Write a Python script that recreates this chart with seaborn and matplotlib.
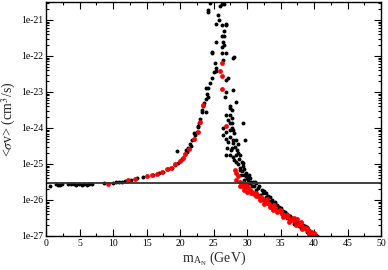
import matplotlib
matplotlib.use("Agg")
import matplotlib.pyplot as plt
import matplotlib.ticker as mticker
import numpy as np
import pandas as pd
import seaborn as sns

# ---- data ----
black_m = [0.6, 1.4, 1.7, 2.0, 2.3, 3.3, 3.7, 4.1, 4.5, 4.9, 5.3, 5.7, 6.1, 6.4, 6.8,
           8.7, 10.0, 10.5, 10.9, 11.3, 11.7, 12.0, 12.6,
           13.6, 14.5, 16.0, 16.8, 17.5, 18.2, 18.8, 19.3, 19.7, 20.2, 20.5, 20.8, 21.0, 21.2,
           21.5, 21.8, 22.0, 22.2, 22.5, 22.6, 22.8, 23.0, 23.2, 23.4, 23.6, 23.8, 24.0, 24.2,
           24.5, 24.8, 25.0, 25.3, 19.5, 23.9, 24.2, 23.2, 23.9, 22.7, 22.1, 21.6, 20.9, 20.3,
           24.4, 24.2, 24.1, 25.7, 26.2, 26.4, 26.6, 26.0, 25.8, 26.2, 26.9, 26.5, 26.2, 26.5,
           25.4, 26.4, 26.2, 26.6, 24.7, 24.8, 26.2, 26.8, 27.9, 28.1, 25.2, 26.4, 25.4, 26.9,
           25.4, 26.9, 27.1, 26.9, 27.9, 28.4, 27.4, 27.7, 26.9, 27.4, 27.2, 27.7, 26.4, 27.7,
           29.4, 26.7, 27.4, 27.7, 27.4, 27.9,
           26.4, 27.4, 26.9, 27.9, 28.2, 27.4, 28.7, 28.4, 29.7, 29.4, 27.9, 26.9, 27.9, 28.9,
           29.4, 27.6, 28.0, 28.6, 29.0, 29.2, 29.5, 29.8, 30.0, 30.2, 30.4, 30.6, 30.9, 31.1,
           31.4, 31.4, 29.6, 30.0, 28.5, 28.3, 27.2, 26.8, 28.1, 27.0, 29.1, 28.8,
           30.8, 31.2, 30.5, 29.9, 29.6, 29.2, 28.9, 28.6, 28.3, 27.8, 27.5, 30.3,
           31.8, 32.2, 32.5, 32.8, 33.1, 33.4, 33.7, 33.9, 34.2, 34.5, 34.8, 35.1, 35.4, 35.7,
           36.0, 36.4, 36.7, 37.0, 37.3, 37.6, 38.0, 38.3, 38.6, 38.9, 39.3, 39.7, 40.1, 40.5,
           32.0, 33.0, 34.0, 35.0, 36.0, 37.0, 38.0, 39.0,
           31.6, 32.4, 32.9, 33.3, 33.6, 34.1, 34.6, 35.2, 35.6, 36.2, 36.6, 37.2, 37.8, 38.4,
           39.1, 39.5, 40.3]
black_sv = [2.5e-26, 2.7e-26, 2.6e-26, 2.6e-26, 2.7e-26, 2.7e-26, 2.75e-26, 2.7e-26, 2.6e-26,
            2.7e-26, 2.6e-26, 2.7e-26, 2.65e-26, 2.75e-26, 2.8e-26,
            3.0e-26, 3.0e-26, 3.1e-26, 3.2e-26, 3.2e-26, 3.3e-26, 3.35e-26, 3.5e-26,
            4.1e-26, 4.4e-26, 5.0e-26, 5.5e-26, 6.0e-26, 7.1e-26, 7.9e-26, 9.3e-26, 1.05e-25,
            1.26e-25, 1.5e-25, 1.9e-25, 2.2e-25, 2.8e-25, 3.5e-25, 4.5e-25, 5.0e-25, 6.3e-25,
            7.9e-25, 1.05e-24, 1.4e-24, 1.8e-24, 2.8e-24, 4.0e-24, 5.0e-24, 6.3e-24, 8.9e-24,
            1.26e-23, 1.8e-23, 2.5e-23, 3.5e-23, 4.5e-23, 2.3e-25, 1.26e-23, 7.4e-24, 3.2e-24,
            2.8e-24, 1.1e-24, 7.1e-25, 3.2e-25, 2.5e-25, 1.4e-25,
            3.0e-21, 1.9e-21, 1.66e-21, 1.4e-21, 2.75e-21, 3.0e-21, 2.8e-21, 2.5e-21, 1.0e-21,
            7.2e-22, 7.2e-22, 5.0e-22, 3.5e-22, 3.5e-22, 2.5e-22, 2.5e-22, 1.8e-22, 2.0e-22,
            1.26e-22, 1.2e-22, 1.2e-22, 1.2e-22, 8.7e-23, 9.5e-23, 6.5e-23, 7.9e-23, 7.9e-22,
            7.9e-22, 3.7e-23, 2.1e-23, 2.5e-23, 1.0e-23, 1.15e-23, 5.4e-24, 4.0e-24, 3.2e-24,
            2.3e-24, 2.3e-24, 1.66e-24, 1.35e-24, 1.0e-24, 1.0e-24, 1.4e-24, 7.4e-24, 3.5e-24,
            1.9e-24, 1.35e-24, 8.7e-25,
            6.5e-25, 8.7e-25, 7.9e-25, 4.7e-25, 3.0e-25, 1.8e-25, 2.0e-25, 1.15e-25, 4.7e-25,
            1.05e-25, 3.7e-25, 1.8e-25, 1.6e-25, 6.8e-26, 8.5e-26, 2.5e-25, 1.26e-25, 1.0e-25,
            7.9e-26, 6.3e-26, 5.0e-26, 4.5e-26, 4.0e-26, 3.5e-26, 2.9e-26, 3.2e-26, 3.2e-26,
            2.5e-26, 1.9e-26, 2.9e-26, 3.5e-26, 2.8e-26, 2.5e-25, 4.5e-25, 4.0e-25, 5.0e-25,
            7.1e-25, 2.8e-25, 5.0e-26, 1.4e-25,
            2.4e-26, 3.2e-26, 4.0e-26, 5.6e-26, 7.1e-26, 1.1e-25, 1.8e-25, 3.5e-25, 1.8e-25,
            2.8e-25, 5.6e-25, 5.0e-26,
            2.4e-26, 1.9e-26, 1.8e-26, 1.6e-26, 1.3e-26, 1.2e-26, 1.0e-26, 8.1e-27, 8.9e-27,
            7.1e-27, 6.3e-27, 5.8e-27, 5.0e-27, 4.7e-27, 4.0e-27, 3.5e-27, 3.2e-27, 2.8e-27,
            2.6e-27, 2.4e-27, 2.2e-27, 2.0e-27, 1.9e-27, 1.8e-27, 1.5e-27, 1.3e-27, 1.12e-27,
            1.0e-27, 1.4e-26, 1.0e-26, 6.3e-27, 4.5e-27, 3.2e-27, 2.2e-27, 1.66e-27, 1.3e-27,
            2.1e-26, 1.6e-26, 1.2e-26, 9.5e-27, 8.3e-27, 7.6e-27, 5.6e-27, 4.8e-27, 4.0e-27,
            3.5e-27, 2.8e-27, 2.4e-27, 1.9e-27, 1.66e-27, 1.4e-27, 1.2e-27, 1.0e-27]

red_m = [9.3, 12.2, 13.2, 15.0, 15.8, 16.5, 17.3, 18.0, 18.6, 19.2, 20.0, 20.4, 20.8, 21.4,
         22.0, 22.7, 22.9, 23.4, 26.0, 26.2, 26.2, 26.2, 26.9,
         28.2, 28.4, 28.7, 28.4, 28.9, 29.4, 29.9, 30.1, 29.3, 29.7, 30.4, 30.8, 31.1, 31.4,
         31.7, 31.9, 32.2, 32.4, 32.7, 33.0, 33.3, 33.6, 33.9, 34.2, 34.5, 34.9, 35.2, 35.5,
         35.8, 36.1, 36.4, 36.7, 37.0, 37.4, 37.7, 38.0, 38.3, 38.6, 38.9, 39.2, 39.5, 39.8,
         40.1, 40.4, 33.0, 34.0, 35.0, 36.0, 37.0, 38.0, 39.0, 40.0,
         30.6, 31.3, 32.0, 32.6, 33.4, 34.4, 35.4, 36.3, 37.3, 38.2, 39.3, 40.2, 29.0, 29.6,
         30.0]
red_sv = [2.8e-26, 3.5e-26, 3.9e-26, 4.7e-26, 5.0e-26, 5.4e-26, 6.0e-26, 7.1e-26, 7.9e-26,
          1.0e-25, 1.2e-25, 1.45e-25, 1.9e-25, 2.6e-25, 5.0e-25, 7.9e-25, 1.5e-24, 4.4e-24,
          3.8e-23, 2.7e-23, 1.2e-23, 6.3e-23, 1.1e-24,
          6.8e-26, 5.5e-26, 4.5e-26, 3.6e-26, 3.2e-26, 2.9e-26, 2.6e-26, 2.3e-26, 2.5e-26,
          2.2e-26, 1.9e-26, 1.66e-26, 1.5e-26, 1.55e-26, 1.3e-26, 1.23e-26, 1.12e-26, 1.0e-26,
          9.1e-27, 8.3e-27, 7.6e-27, 6.3e-27, 5.2e-27, 5.6e-27, 5.0e-27, 5.2e-27, 4.2e-27,
          3.8e-27, 3.5e-27, 3.3e-27, 2.75e-27, 3.0e-27, 2.6e-27, 2.9e-27, 2.2e-27, 2.0e-27,
          1.8e-27, 1.66e-27, 1.5e-27, 1.4e-27, 1.26e-27, 1.12e-27, 1.05e-27, 0.95e-27,
          1.05e-26, 7.1e-27, 5.0e-27, 3.8e-27, 3.2e-27, 2.4e-27, 1.66e-27, 1.2e-27,
          1.6e-26, 1.26e-26, 1.0e-26, 7.9e-27, 6.3e-27, 4.5e-27, 3.3e-27, 2.5e-27, 2.0e-27,
          1.6e-27, 1.12e-27, 1.0e-27, 2.5e-26, 1.9e-26, 1.66e-26]

relic_sv = 3.0e-26
x_ticks = [0, 5, 10, 15, 20, 25, 30, 35, 40, 45, 50]
y_ticks = [1e-27, 1e-26, 1e-25, 1e-24, 1e-23, 1e-22, 1e-21]
y_tick_labels = ["1e-27", "1e-26", "1e-25", "1e-24", "1e-23", "1e-22", "1e-21"]
x_label = r"m$_{\mathregular{A_N}}$ (GeV)"
y_label = r"<$\sigma$v> (cm$^{3}$/s)"

df_black = pd.DataFrame({"m": black_m, "sv": black_sv})
df_red = pd.DataFrame({"m": red_m, "sv": red_sv})

sns.set_style("ticks")
plt.rcParams["font.family"] = ["Liberation Serif", "DejaVu Serif"]
plt.rcParams["mathtext.fontset"] = "stix"

fig = plt.figure(figsize=(3.88, 2.70), dpi=100)
ax = fig.add_axes([0.119, 0.126, 0.863, 0.867])

sns.scatterplot(data=df_black, x="m", y="sv", color="black", s=8, linewidth=0,
                ax=ax, legend=False, clip_on=True)
sns.scatterplot(data=df_red, x="m", y="sv", color="#ff0000", s=12, linewidth=0,
                ax=ax, legend=False, clip_on=True)
ax.axhline(relic_sv, color="#333333", lw=1.3, zorder=1)

ax.set_yscale("log")
ax.set_xlim(0, 50)
ax.set_ylim(1e-27, 10 ** -20.5)
ax.set_xticks(x_ticks)
ax.set_xticklabels([str(t) for t in x_ticks])
ax.xaxis.set_minor_locator(mticker.MultipleLocator(2.5))
ax.set_yticks(y_ticks)
ax.set_yticklabels(y_tick_labels)
ax.yaxis.set_minor_locator(mticker.LogLocator(base=10, subs=np.arange(2, 10), numticks=20))
ax.yaxis.set_minor_formatter(mticker.NullFormatter())

ax.tick_params(which="both", direction="in", top=True, right=True, labelsize=7,
               width=0.8, colors="black")
ax.tick_params(which="major", length=5, pad=2)
ax.tick_params(which="minor", length=2.5)
for sp in ax.spines.values():
    sp.set_linewidth(1.0)
    sp.set_color("black")

ax.set_xlabel(x_label, fontsize=10, labelpad=1)
ax.set_ylabel(y_label, fontsize=10, labelpad=2)

fig.savefig("out.png", dpi=100)
